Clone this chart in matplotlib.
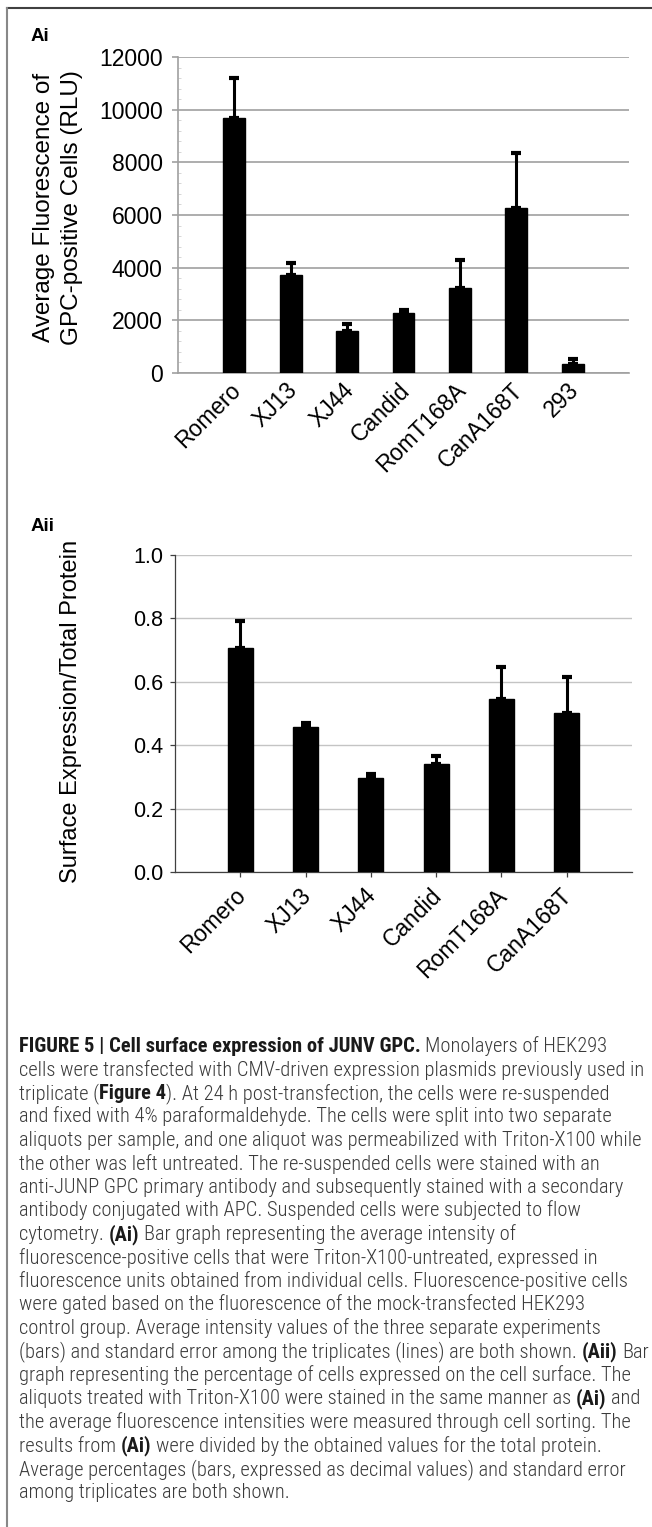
import matplotlib
matplotlib.use("Agg")
import matplotlib.pyplot as plt
import matplotlib.transforms as mtransforms
from matplotlib import font_manager as fm
import numpy as np

plt.rcParams['font.family'] = ['Liberation Sans', 'DejaVu Sans']

W, H = 652, 1527

# Ai: average fluorescence of GPC-positive cells
ai_labels = ['Romero', 'XJ13', 'XJ44', 'Candid', 'RomT168A', 'CanA168T', '293']
ai_mean = [9700, 3730, 1580, 2290, 3220, 6280, 340]
ai_err = [1510, 440, 270, 100, 1080, 2060, 200]

# Aii: surface expression / total protein
aii_labels = ['Romero', 'XJ13', 'XJ44', 'Candid', 'RomT168A', 'CanA168T']
aii_mean = [0.707, 0.456, 0.298, 0.341, 0.546, 0.501]
aii_err = [0.085, 0.013, 0.011, 0.024, 0.100, 0.115]

caption = [
    [("FIGURE 5 | Cell surface expression of JUNV GPC.", True), (" Monolayers of HEK293", False)],
    [("cells were transfected with CMV-driven expression plasmids previously used in", False)],
    [("triplicate (", False), ("Figure 4", True), ("). At 24 h post-transfection, the cells were re-suspended", False)],
    [("and fixed with 4% paraformaldehyde. The cells were split into two separate", False)],
    [("aliquots per sample, and one aliquot was permeabilized with Triton-X100 while", False)],
    [("the other was left untreated. The re-suspended cells were stained with an", False)],
    [("anti-JUNP GPC primary antibody and subsequently stained with a secondary", False)],
    [("antibody conjugated with APC. Suspended cells were subjected to flow", False)],
    [("cytometry. ", False), ("(Ai)", True), (" Bar graph representing the average intensity of", False)],
    [("fluorescence-positive cells that were Triton-X100-untreated, expressed in", False)],
    [("fluorescence units obtained from individual cells. Fluorescence-positive cells", False)],
    [("were gated based on the fluorescence of the mock-transfected HEK293", False)],
    [("control group. Average intensity values of the three separate experiments", False)],
    [("(bars) and standard error among the triplicates (lines) are both shown. ", False), ("(Aii)", True), (" Bar", False)],
    [("graph representing the percentage of cells expressed on the cell surface. The", False)],
    [("aliquots treated with Triton-X100 were stained in the same manner as ", False), ("(Ai)", True), (" and", False)],
    [("the average fluorescence intensities were measured through cell sorting. The", False)],
    [("results from ", False), ("(Ai)", True), (" were divided by the obtained values for the total protein.", False)],
    [("Average percentages (bars, expressed as decimal values) and standard error", False)],
    [("among triplicates are both shown.", False)],
]

fig = plt.figure(figsize=(W / 100, H / 100), dpi=100)


def px_axes(x0, y0, x1, y1):
    # pixel box (top-left origin) -> figure fraction axes
    return fig.add_axes([x0 / W, 1 - y1 / H, (x1 - x0) / W, (y1 - y0) / H])


def shift_labels(ax, dx_px):
    off = mtransforms.ScaledTranslation(dx_px / 100, 0, fig.dpi_scale_trans)
    for lbl in ax.get_xticklabels():
        lbl.set_transform(lbl.get_transform() + off)


# ---------- Ai ----------
ax1 = px_axes(178, 57, 629, 373)
x1 = np.arange(len(ai_labels))
ax1.bar(x1, ai_mean, width=0.39, color='black', edgecolor='black', zorder=3)
ax1.errorbar(x1, ai_mean, yerr=[np.zeros(len(ai_err)), ai_err], fmt='none',
             ecolor='black', elinewidth=2.2, capsize=3.5, capthick=3, zorder=4)
ax1.set_xlim(-1, 7)
ax1.set_ylim(0, 12000)
ax1.set_yticks(np.arange(0, 12001, 2000))
ax1.set_yticks(np.arange(0, 12001, 400), minor=True)
ax1.yaxis.grid(True, color='#a0a0a0', lw=1.2, zorder=0)
for s in ['top', 'right']:
    ax1.spines[s].set_visible(False)
for s in ['left', 'bottom']:
    ax1.spines[s].set_color('#a0a0a0')
    ax1.spines[s].set_linewidth(1.2)
ax1.tick_params(axis='y', which='major', length=4, width=1.2, color='#a0a0a0',
                pad=7, labelsize=16.5)
ax1.tick_params(axis='y', which='minor', direction='in', length=2.5, width=0.6,
                color='#d0d0d0')
ax1.tick_params(axis='x', length=0, pad=10)
ax1.set_xticks(x1)
ax1.set_xticklabels(ai_labels, rotation=45, ha='right', va='center',
                    rotation_mode='anchor', fontsize=16.5)
shift_labels(ax1, 3)
ax1.set_ylabel('Average Fluorescence of\nGPC-positive Cells (RLU)', fontsize=17.5,
               linespacing=1.3)
ax1.yaxis.label.set_va('center')
ax1.yaxis.set_label_coords((58 - 178) / 451, 0.525)
fig.text(31 / W, 1 - 41 / H, 'Ai', fontsize=13.5, fontweight='bold')

# ---------- Aii ----------
ax2 = px_axes(175, 555, 632, 872)
x2 = np.arange(len(aii_labels))
ax2.bar(x2, aii_mean, width=0.38, color='black', edgecolor='black', zorder=3)
ax2.errorbar(x2, aii_mean, yerr=[np.zeros(len(aii_err)), aii_err], fmt='none',
             ecolor='black', elinewidth=2.2, capsize=3.5, capthick=3, zorder=4)
ax2.set_xlim(-1, 6)
ax2.set_ylim(0, 1.0)
ax2.set_yticks(np.arange(0, 1.01, 0.2))
ax2.set_yticklabels([f'{v:.1f}' for v in np.arange(0, 1.01, 0.2)])
ax2.yaxis.grid(True, color='#c4c4c4', lw=1.0, zorder=0)
for s in ['top', 'right']:
    ax2.spines[s].set_visible(False)
for s in ['left', 'bottom']:
    ax2.spines[s].set_color('#404040')
    ax2.spines[s].set_linewidth(0.9)
ax2.tick_params(axis='y', length=3.5, width=0.9, color='#404040', pad=5,
                labelsize=15.5)
ax2.tick_params(axis='x', length=3.5, width=0.9, color='#404040', pad=11)
ax2.set_xticks(x2)
ax2.set_xticklabels(aii_labels, rotation=45, ha='right', va='center',
                    rotation_mode='anchor', fontsize=16.5)
shift_labels(ax2, 2)
ax2.set_ylabel('Surface Expression/Total Protein', fontsize=17)
ax2.yaxis.label.set_va('center')
ax2.yaxis.set_label_coords((71 - 175) / 457, 0.505)
fig.text(31 / W, 1 - 531 / H, 'Aii', fontsize=13.5, fontweight='bold')

# ---------- frame ----------
fig.add_artist(plt.Line2D([7 / W, 1], [1 - 8 / H, 1 - 8 / H], color='#404040', lw=1.5))
fig.add_artist(plt.Line2D([7 / W, 7 / W], [0, 1 - 8 / H], color='#888888', lw=1.5))

# ---------- caption ----------
# pick a narrow / light sans for the caption if one is installed
avail = {}
for f in fm.fontManager.ttflist:
    avail.setdefault(f.name, []).append((f.weight, f.stretch))

cap_family, cap_stretch = 'Liberation Sans', 'normal'
for name in ['Roboto Condensed', 'Liberation Sans Narrow', 'Open Sans Condensed',
             'Nimbus Sans Narrow', 'Arial Narrow']:
    if name in avail:
        cap_family = name
        break
else:
    for name in ['Noto Sans', 'Open Sans', 'DejaVu Sans']:
        if any(st in ('condensed', 'semi-condensed') for _, st in avail.get(name, [])):
            cap_family, cap_stretch = name, 'condensed'
            break


def is_light(w):
    if isinstance(w, str):
        return w in ('light', 'extra light', 'ultralight', 'thin')
    return w <= 350


cap_weight = 'light' if any(is_light(w) for w, _ in avail.get(cap_family, [])) else 'normal'
cap_font = [cap_family, 'Liberation Sans']

r = fig.canvas.get_renderer()


def text_w(s, size, bold=False):
    t = fig.text(0, 0, s, fontsize=size, family=cap_font, fontstretch=cap_stretch,
                 fontweight='bold' if bold else cap_weight)
    w = t.get_window_extent(r).width
    t.remove()
    return w


cap_size = 11 * 620 / text_w(caption[4][0][0], 11)
space_w = text_w('x x', cap_size) - text_w('xx', cap_size)

x_start, y_first, dy = 19, 1052, 23.5
for i, segs in enumerate(caption):
    y = y_first + i * dy
    x = x_start
    for s, bold in segs:
        x += (len(s) - len(s.lstrip(' '))) * space_w
        t = fig.text(x / W, 1 - y / H, s.strip(), fontsize=cap_size, family=cap_font,
                     fontstretch=cap_stretch,
                     fontweight='bold' if bold else cap_weight,
                     color='#1a1a1a' if bold else '#3a3a3a', va='baseline')
        x = t.get_window_extent(r).x1 + (len(s) - len(s.rstrip(' '))) * space_w

fig.savefig('out.png', dpi=100)
